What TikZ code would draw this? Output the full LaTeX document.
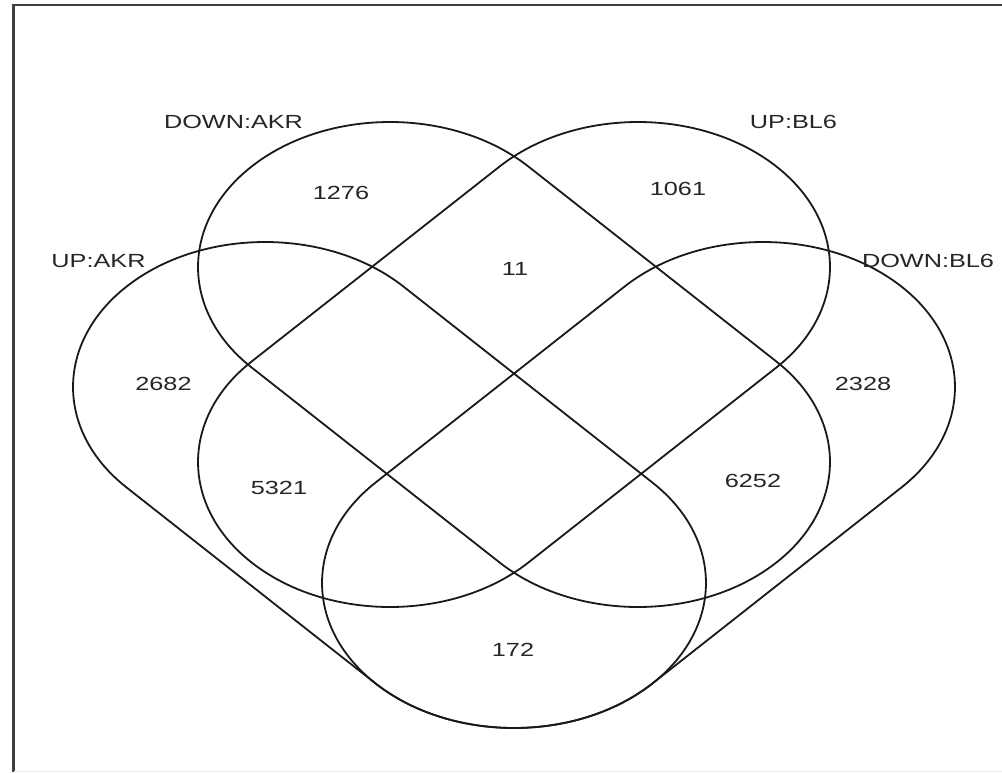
\documentclass[tikz,border=0pt]{standalone}
\usepackage{fontspec}
\setmainfont{Liberation Sans}
\usetikzlibrary{calc}
\def\vennk{1.324}
\def\vennr{145}
\tikzset{
  vennline/.style={draw=black!90, line width=1.8pt},
  frameline/.style={draw=black!75, line width=2.3pt},
  lbl/.style={font=\fontsize{19}{19}\selectfont, xscale=1.33, text=black!85, inner sep=0pt},
}
\newcommand{\vstadium}[4]{%
  \pgfmathsetmacro{\vax}{#1/\vennk}\pgfmathsetmacro{\vay}{#2}%
  \pgfmathsetmacro{\vbx}{#3/\vennk}\pgfmathsetmacro{\vby}{#4}%
  \pgfmathsetmacro{\vth}{atan2(\vby-\vay,\vbx-\vax)}%
  \pgfmathsetmacro{\vpa}{\vth+90}\pgfmathsetmacro{\vpb}{\vth+270}\pgfmathsetmacro{\vpc}{\vth-90}%
  \draw[vennline] ($(\vax,\vay)+(\vpa:\vennr)$) arc[start angle=\vpa, end angle=\vpb, radius=\vennr]
    -- ($(\vbx,\vby)+(\vpc:\vennr)$) arc[start angle=\vpc, end angle=\vpa, radius=\vennr] -- cycle;}
\begin{document}
\begin{tikzpicture}[x=1pt,y=-1pt]
\useasboundingbox (0,0) rectangle (1002,772);
\fill[white] (0,0) rectangle (1002,772);
% frame
\coordinate (fbl) at (13.5,772);
\coordinate (ftl) at (13.5,5);
\coordinate (ftr) at (1002,5);
\coordinate (fbr) at (1002,771.5);
\draw[frameline] (fbl) -- (ftl) -- (ftr);
\draw[black!8, line width=1pt] (13.5,771.5) -- (fbr);
% sets
\begin{scope}[xscale=\vennk]
\vstadium{390}{267}{638}{462}   % DOWN:AKR
\vstadium{638}{267}{390}{462}   % UP:BL6
\vstadium{265}{387}{514}{583}   % UP:AKR
\vstadium{763}{387}{514}{583}   % DOWN:BL6
\end{scope}
% set labels
\node[lbl] (ldakr) at (233.5,122) {DOWN:AKR};
\node[lbl] (lubl) at (793.5,122) {UP:BL6};
\node[lbl] (luakr) at (98.5,261) {UP:AKR};
\node[lbl] (ldbl) at (928,261) {DOWN:BL6};
% counts
\node[lbl] (n1276) at (341,192.5) {1276};
\node[lbl] (n1061) at (678,189) {1061};
\node[lbl] (n11) at (515,269) {11};
\node[lbl] (n2682) at (163.5,384) {2682};
\node[lbl] (n2328) at (863,384) {2328};
\node[lbl] (n5321) at (279,488) {5321};
\node[lbl] (n6252) at (753,481) {6252};
\node[lbl] (n172) at (513,650) {172};
\end{tikzpicture}
\end{document}
